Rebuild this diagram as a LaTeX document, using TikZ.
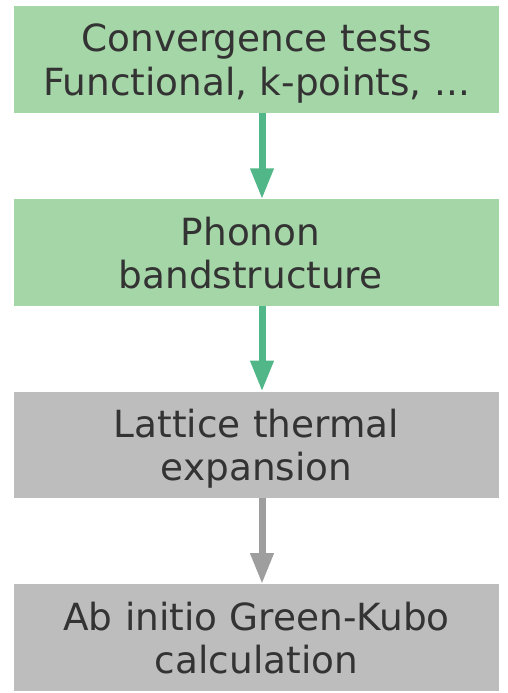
\documentclass[tikz,border=0pt]{standalone}
\usepackage{fontspec}
\setmainfont{DejaVu Sans}
\usetikzlibrary{arrows.meta}
\definecolor{gfill}{HTML}{A5D6A7}
\definecolor{garrow}{HTML}{52B788}
\definecolor{yfill}{HTML}{BDBDBD}
\definecolor{yarrow}{HTML}{9E9E9E}
\definecolor{txt}{HTML}{333333}
\begin{document}
\begin{tikzpicture}[x=1pt,y=-1pt,
  stepbox/.style={draw=none, minimum width=485pt, minimum height=106.5pt, inner sep=0pt,
    text width=485pt, align=center, text=txt, text depth=43.3pt, font=\fontsize{37.4}{43.3}\selectfont},
  greenbox/.style={stepbox, fill=gfill},
  graybox/.style={stepbox, fill=yfill},
  flow/.style={line width=7pt, -{Triangle[width=22pt,length=31pt]}}
]
\useasboundingbox (0,0) rectangle (508,693);
\node[greenbox] (a) at (256.5,59.5) {Convergence tests\\Functional, k-points, ...};
\node[greenbox] (b) at (256.5,252.7) {Phonon\kern11.9pt\\bandstructure\kern11.9pt};
\node[graybox] (c) at (256.5,445) {Lattice thermal\\expansion};
\node[graybox] (d) at (256.5,637.5) {Ab initio Green-Kubo\\calculation};
\draw[flow, draw=garrow] ([xshift=5.5pt]a.south) -- ([xshift=5.5pt]b.north);
\draw[flow, draw=garrow] ([xshift=5.5pt]b.south) -- ([xshift=5.5pt]c.north);
\draw[flow, draw=yarrow] ([xshift=5.5pt]c.south) -- ([xshift=5.5pt]d.north);
\end{tikzpicture}
\end{document}
